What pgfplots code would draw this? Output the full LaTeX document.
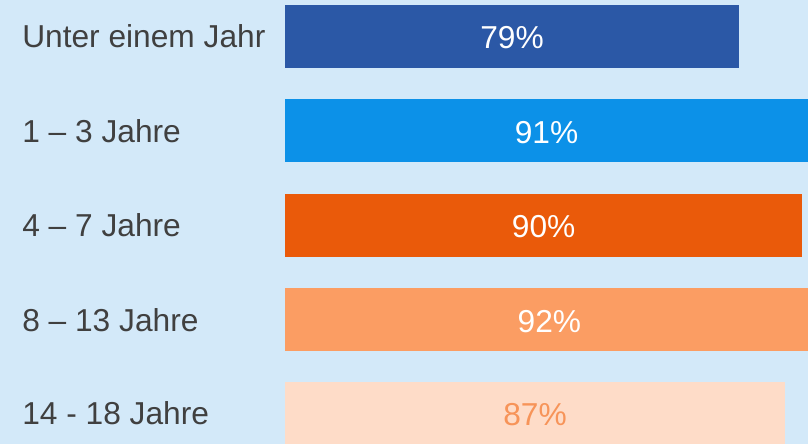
\documentclass[border=0pt]{standalone}
\usepackage{pgfplots}
\pgfplotsset{compat=1.18}
\usepackage{fontspec}
\setmainfont{Liberation Sans}
\definecolor{bg}{HTML}{D3E9F9}
\definecolor{cA}{HTML}{2B58A6}
\definecolor{cB}{HTML}{0C91E8}
\definecolor{cC}{HTML}{EA5A0A}
\definecolor{cD}{HTML}{FB9D63}
\definecolor{cE}{HTML}{FEDCC8}
\definecolor{cEtxt}{HTML}{F79459}
\definecolor{txt}{HTML}{404040}
\begin{document}
\begin{tikzpicture}
\begin{axis}[scale only axis, width=808pt, height=444pt,
  xmin=-49.6, xmax=91.0, ymin=0, ymax=444,
  axis line style={draw=none}, ticks=none,
  axis background/.style={fill=bg},
  xbar, bar width=63, bar shift=0pt,
  every node near coord/.append style={anchor=center, yshift=-1.5pt, font=\fontsize{31.7}{36}\selectfont},
  clip=true]
\addplot[fill=cA, draw=none] coordinates {(79,407.5)};
\addplot[fill=cB, draw=none] coordinates {(91,313)};
\addplot[fill=cC, draw=none] coordinates {(90,218.5)};
\addplot[fill=cD, draw=none] coordinates {(92,124)};
\addplot[fill=cE, draw=none] coordinates {(87,30.5)};
% percentage labels, centred in each bar
\addplot[xbar=false, draw=none, mark=none, nodes near coords, point meta=explicit symbolic,
  nodes near coords style={white, anchor=center}] coordinates {
  (39.5,407.5) [79\%] (45.5,313) [91\%] (45,218.5) [90\%] (46,124) [92\%]};
\addplot[xbar=false, draw=none, mark=none, nodes near coords, point meta=explicit symbolic,
  nodes near coords style={cEtxt, anchor=center}] coordinates {(43.5,30.5) [87\%]};
\begin{scope}[every node/.style={anchor=west, text=txt, inner sep=0pt, font=\fontsize{31.7}{36}\selectfont}]
\node at (axis cs:-45.76,407.5) {Unter einem Jahr};
\node at (axis cs:-45.76,313) {1 – 3 Jahre};
\node at (axis cs:-45.76,218.5) {4 – 7 Jahre};
\node at (axis cs:-45.76,124) {8 – 13 Jahre};
\node at (axis cs:-45.76,30.5) {14 - 18 Jahre};
\end{scope}
\end{axis}
\end{tikzpicture}
\end{document}
